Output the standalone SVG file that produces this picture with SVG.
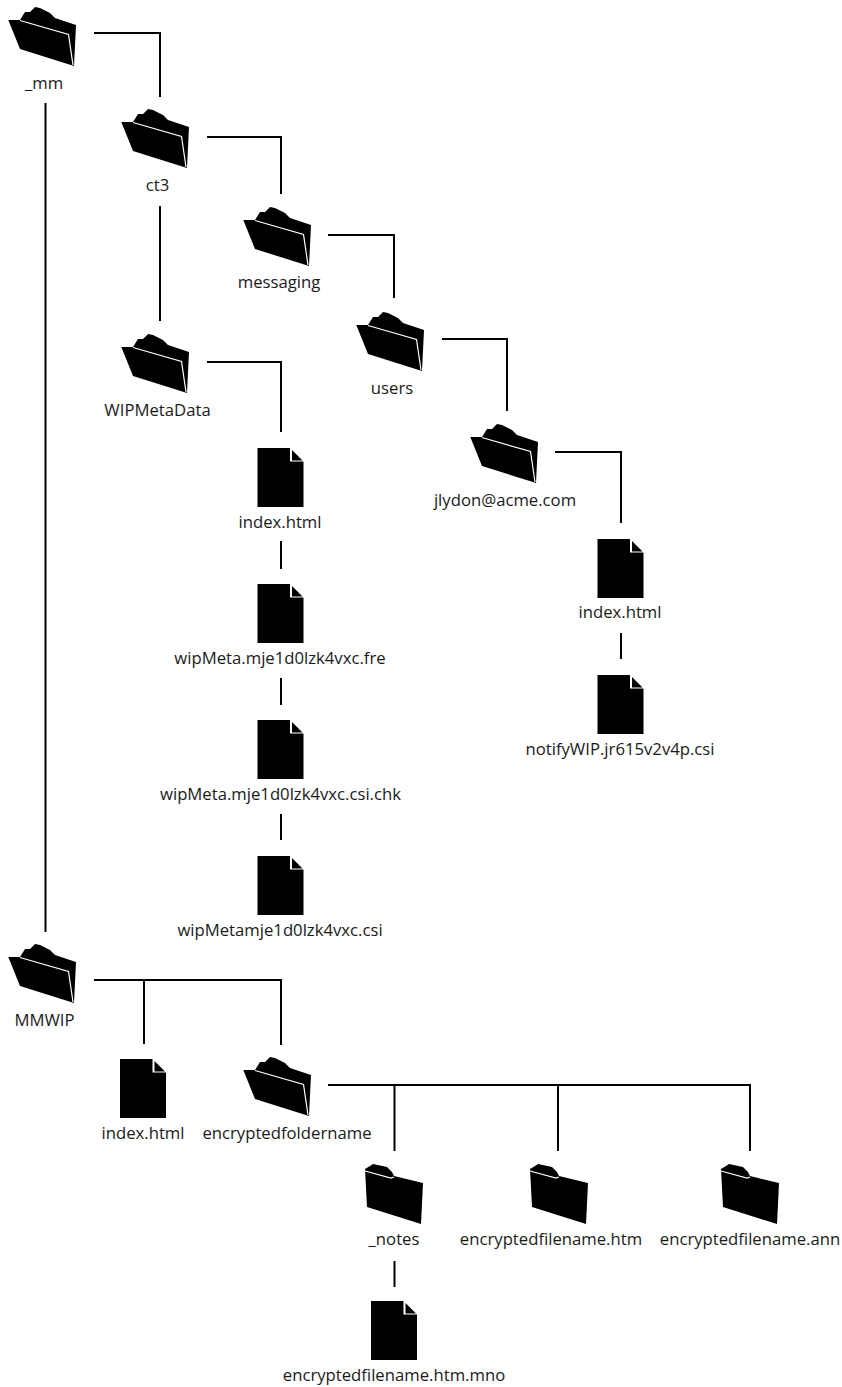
<svg xmlns="http://www.w3.org/2000/svg" width="842" height="1387" viewBox="0 0 842 1387">
<style>
text{font-family:"Open Sans","Noto Sans","Liberation Sans",sans-serif;font-size:16.7px;fill:#1a1a1a;text-anchor:middle}
.c{fill:none;stroke:#000;stroke-width:2}
</style>
<defs>
<g id="open"><path d="M8.3 20L20 20L25 12L30 12L35 7L40 8L50 13L55 18L76 25L74 66L20 49Z" fill="#000"/><path d="M20 20.5L68.5 34.5L73 65" fill="none" stroke="#fff" stroke-width="1.2"/></g>
<g id="closed"><path d="M0 5L5 2L8 0L22 3L27 8L29 12L58 19L56 60L2 43Z" fill="#000"/><path d="M0 7L26 14L29 13" fill="none" stroke="#fff" stroke-width="1.2"/></g>
<g id="file"><path d="M0 0H32.5V13.5H46V59H0Z" fill="#000"/><path d="M34.5 2L45 12.5H34.5Z" fill="#000"/></g>
</defs>
<g id="connectors">
<path class="c" d="M94 33H160V97"/><path class="c" d="M45.5 103V932"/>
<path class="c" d="M207 137H281V194"/><path class="c" d="M160 206V321"/>
<path class="c" d="M328 235H394V298"/><path class="c" d="M442 339H507V411"/>
<path class="c" d="M555 452H621V523"/><path class="c" d="M207 362H281V432"/>
<path class="c" d="M281 541V569"/><path class="c" d="M281 678V705"/><path class="c" d="M281 814V840"/>
<path class="c" d="M621 633V659"/>
<path class="c" d="M94 980H281V1045"/><path class="c" d="M144 980V1044"/>
<path class="c" d="M328 1085H750V1151"/><path class="c" d="M394.5 1085V1151"/><path class="c" d="M558 1085V1151"/>
<path class="c" d="M394.5 1261V1287"/>
</g>
<g id="n-mm"><use href="#open"/><text x="44" y="89">_mm</text></g>
<g id="n-ct3"><use href="#open" x="113" y="102"/><text x="157.5" y="191">ct3</text></g>
<g id="n-messaging"><use href="#open" x="235" y="200"/><text x="279" y="288">messaging</text></g>
<g id="n-users"><use href="#open" x="348" y="305"/><text x="392" y="394">users</text></g>
<g id="n-jlydon"><use href="#open" x="462" y="417"/><text x="505" y="506">jlydon@acme.com</text></g>
<g id="n-wipmetadata"><use href="#open" x="113" y="327"/><text x="157.5" y="416">WIPMetaData</text></g>
<g id="n-index1"><use href="#file" x="257.5" y="448"/><text x="280" y="528">index.html</text></g>
<g id="n-fre"><use href="#file" x="257.5" y="584"/><text x="280" y="664">wipMeta.mje1d0lzk4vxc.fre</text></g>
<g id="n-chk"><use href="#file" x="257.5" y="720"/><text x="280.5" y="800">wipMeta.mje1d0lzk4vxc.csi.chk</text></g>
<g id="n-csi"><use href="#file" x="257.5" y="856"/><text x="280" y="936">wipMetamje1d0lzk4vxc.csi</text></g>
<g id="n-index2"><use href="#file" x="597.5" y="539"/><text x="620" y="618">index.html</text></g>
<g id="n-notify"><use href="#file" x="597.5" y="675"/><text x="620" y="755">notifyWIP.jr615v2v4p.csi</text></g>
<g id="n-mmwip"><use href="#open" y="937"/><text x="44.5" y="1026">MMWIP</text></g>
<g id="n-index3"><use href="#file" x="120" y="1059"/><text x="143" y="1139">index.html</text></g>
<g id="n-encfolder"><use href="#open" x="235" y="1050"/><text x="287" y="1139">encryptedfoldername</text></g>
<g id="n-notes"><use href="#closed" x="365" y="1164"/><text x="394" y="1245">_notes</text></g>
<g id="n-htm"><use href="#closed" x="530" y="1164"/><text x="551" y="1245">encryptedfilename.htm</text></g>
<g id="n-ann"><use href="#closed" x="721" y="1164"/><text x="750" y="1245">encryptedfilename.ann</text></g>
<g id="n-mno"><use href="#file" x="371" y="1301"/><text x="394" y="1381">encryptedfilename.htm.mno</text></g>
</svg>
